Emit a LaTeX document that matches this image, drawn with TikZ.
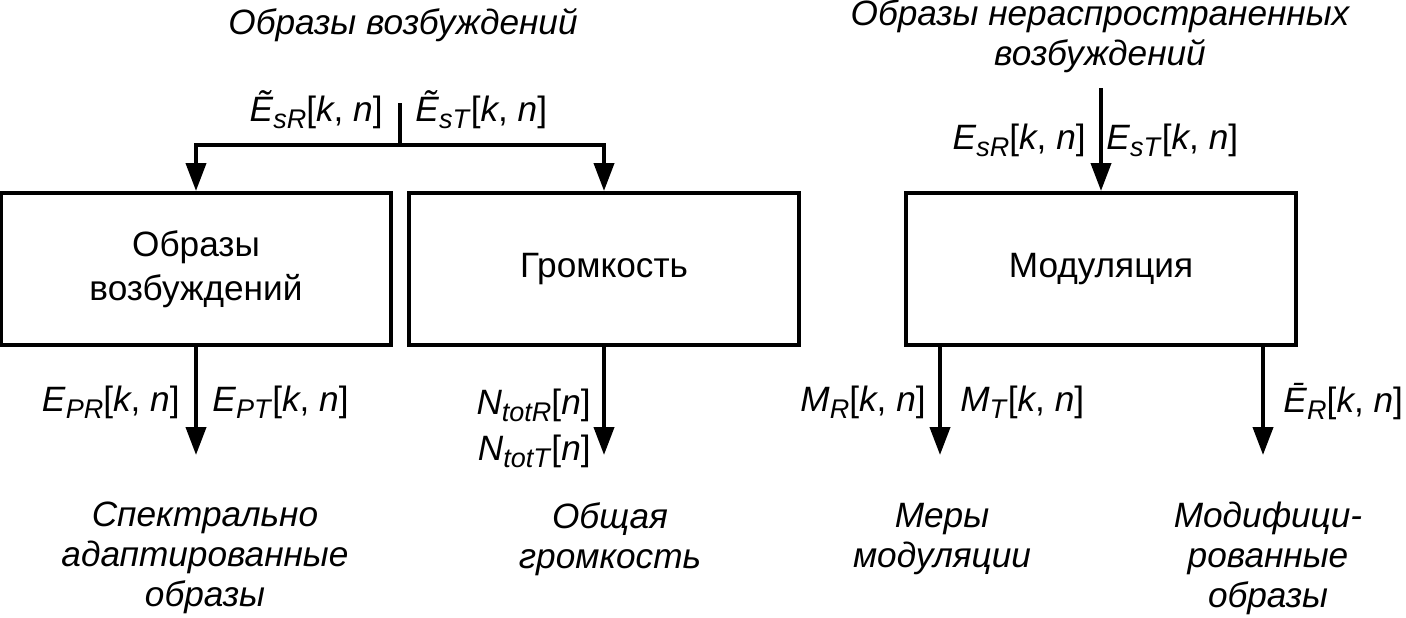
\documentclass[tikz,border=0pt]{standalone}
\usepackage{fontspec}
\setmainfont{Liberation Sans}
\usetikzlibrary{arrows.meta, positioning}

% signal names
\newcommand{\sub}[1]{\raisebox{-3.5pt}{\fontsize{13.5}{14}\selectfont\textit{#1}}}
\newcommand{\sig}[2]{\textit{#1}\sub{#2}}
\newcommand{\kn}{[\textit{k}, \textit{n}]}

\begin{document}
\begin{tikzpicture}[
        x=0.5pt, y=-0.5pt,
        block/.style={rectangle, draw, line width=2pt, minimum width=195pt, minimum height=76pt,
            font=\fontsize{17.6}{22}\selectfont, align=center},
        caption/.style={font=\fontsize{17.6}{20}\selectfont\itshape, align=center, inner sep=0pt},
        signal/.style={font=\fontsize{17.6}{23}\selectfont, inner sep=0pt},
        arrow/.style={-{Triangle[length=14pt, width=10pt]}, line width=2pt},
        wire/.style={line width=2pt}
    ]
        \useasboundingbox (0,0) rectangle (1406,617);

        % blocks
        \node[block] (excit) at (196,269) {Образы\\возбуждений};
        \node[block] (loud) at (604,269) {Громкость};
        \node[block] (modul) at (1101,269) {Модуляция};

        % inputs
        \node[caption] (intitle) at (403,25) {Образы возбуждений};
        \node[caption] (unspread) at (1100,36) {Образы нераспространенных\\возбуждений};
        \coordinate (feed) at (400,103);
        \coordinate (split) at (400,145);
        \coordinate (modin) at (1101,88);

        \draw[wire] (feed) -- (split);
        \draw[arrow] (split) -| (excit.north);
        \draw[arrow] (split) -| (loud.north);
        \draw[arrow] (modin) -- (modul.north);

        \node[signal, anchor=east] (esrt) at (383,110) {\sig{Ẽ}{sR}\kn};
        \node[signal, anchor=west] (estt) at (415,110) {\sig{Ẽ}{sT}\kn};
        \node[signal, anchor=east] (esr) at (1086,140) {\sig{E}{sR}\kn};
        \node[signal, anchor=west] (est) at (1106,140) {\sig{E}{sT}\kn};

        % outputs
        \coordinate (specend) at (196,455);
        \coordinate (loudend) at (604,455);
        \coordinate (measend) at (940,455);
        \coordinate (modend) at (1263,455);

        \draw[arrow] (excit.south) -- (specend);
        \draw[arrow] (loud.south) -- (loudend);
        \draw[arrow] (measend |- modul.south) -- (measend);
        \draw[arrow] (modend |- modul.south) -- (modend);

        \node[signal, anchor=east] (epr) at (180,402) {\sig{E}{PR}\kn};
        \node[signal, anchor=west] (ept) at (212,402) {\sig{E}{PT}\kn};
        \node[signal, anchor=east, align=right] (ntot) at (591,428) {\sig{N}{totR}[\textit{n}]\\\sig{N}{totT}[\textit{n}]};
        \node[signal, anchor=east] (mr) at (926,402) {\sig{M}{R}\kn};
        \node[signal, anchor=west] (mt) at (960,402) {\sig{M}{T}\kn};
        \node[signal, anchor=west] (ebar) at (1283,402) {\sig{Ē}{R}\kn};

        \node[caption] (spec) at (205,558) {Спектрально\\адаптированные\\образы};
        \node[caption] (total) at (610,539) {Общая\\громкость};
        \node[caption] (meas) at (942,539) {Меры\\модуляции};
        \node[caption] (modif) at (1268,558) {Модифици-\\рованные\\образы};
    \end{tikzpicture}
\end{document}
